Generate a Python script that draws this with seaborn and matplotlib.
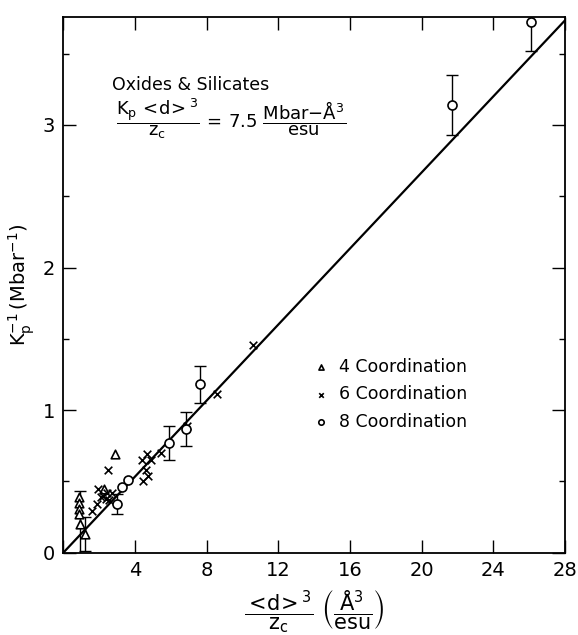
import numpy as np
import matplotlib
matplotlib.use("Agg")
import matplotlib.pyplot as plt
import seaborn as sns
from matplotlib.ticker import MultipleLocator

# 4 coordination (triangles)
tri_x = np.array([0.87, 0.87, 0.87, 0.87, 0.92, 1.21, 2.27, 2.86])
tri_y = np.array([0.39, 0.35, 0.31, 0.27, 0.20, 0.13, 0.45, 0.69])
tri_err = np.array([0, 0, 0, 0, 0.23, 0.12, 0, 0])

# 6 coordination (crosses)
cross_x = np.array([1.60, 1.90, 1.95, 2.08, 2.23, 2.36, 2.45, 2.49, 2.55, 2.70,
                    4.41, 4.46, 4.59, 4.69, 4.74, 4.87, 5.43, 6.92, 8.56, 10.6])
cross_y = np.array([0.29, 0.34, 0.45, 0.39, 0.40, 0.38, 0.42, 0.58, 0.37, 0.42,
                    0.65, 0.50, 0.58, 0.69, 0.54, 0.65, 0.70, 0.89, 1.11, 1.46])

# 8 coordination (circles)
circ_x = np.array([3.01, 3.26, 3.63, 5.90, 6.83, 7.63, 21.7, 26.1])
circ_y = np.array([0.34, 0.46, 0.51, 0.77, 0.87, 1.18, 3.14, 3.72])
circ_err = np.array([0.07, 0, 0, 0.12, 0.12, 0.13, 0.21, 0.20])

# fitted line K_p <d>^3 / z_c = 7.5
slope = 7.5
fit_x = np.array([0.0, 28.0])

x_ticks = [0, 4, 8, 12, 16, 20, 24, 28]
x_ticklabels = ["", "4", "8", "12", "16", "20", "24", "28"]
y_ticks = [0, 1, 2, 3]
y_ticklabels = ["0", "1", "2", "3"]

sns.set_style("ticks")
plt.rcParams["font.family"] = ["DejaVu Sans"]
plt.rcParams["mathtext.fontset"] = "dejavusans"
plt.rcParams["mathtext.default"] = "regular"
for k in ["text.color", "axes.labelcolor", "xtick.color", "ytick.color", "axes.edgecolor"]:
    plt.rcParams[k] = "black"

fig = plt.figure(figsize=(5.78, 6.35), dpi=100)
ax = fig.add_axes([0.1095, 0.1296, 0.868, 0.8432])

sns.lineplot(x=fit_x, y=fit_x / slope, color="black", linewidth=1.6, ax=ax, zorder=1)

for xs, ys, es in [(tri_x, tri_y, tri_err), (circ_x, circ_y, circ_err)]:
    m = es > 0
    ax.errorbar(xs[m], ys[m], yerr=es[m], fmt="none", ecolor="black",
                elinewidth=1.0, capsize=4, capthick=1.0, zorder=2)

sns.scatterplot(x=tri_x, y=tri_y, marker="^", color="white", edgecolor="black",
                linewidth=1.2, s=38, ax=ax, zorder=3, label="4 Coordination")
sns.scatterplot(x=cross_x, y=cross_y, marker="x", color="black",
                linewidth=1.2, s=30, ax=ax, zorder=3, label="6 Coordination")
sns.scatterplot(x=circ_x, y=circ_y, marker="o", color="white", edgecolor="black",
                linewidth=1.2, s=42, ax=ax, zorder=3, label="8 Coordination")

ax.set_xlim(0, 28)
ax.set_ylim(0, 3.755)
ax.set_xticks(x_ticks)
ax.set_xticklabels(x_ticklabels)
ax.set_yticks(y_ticks)
ax.set_yticklabels(y_ticklabels)
ax.yaxis.set_minor_locator(MultipleLocator(0.5))
ax.tick_params(which="major", direction="in", length=9.5, width=1.0,
               top=True, right=True, labelsize=14, pad=6)
ax.tick_params(which="minor", direction="in", length=4.5, width=1.0,
               left=True, right=True)
for sp in ax.spines.values():
    sp.set_linewidth(1.3)

ax.set_ylabel(r"$K_p^{-1}\,(Mbar^{-1})$", fontsize=14, labelpad=4)
ax.set_xlabel(r"$\dfrac{{<}\!d\!{>}^3}{z_c}\ \left(\dfrac{\AA^3}{esu}\right)$",
              fontsize=15, labelpad=6)

ax.text(0.254, 0.874, "Oxides & Silicates", transform=ax.transAxes,
        ha="center", va="center", fontsize=12.5)
ax.text(0.334, 0.811,
        r"$\dfrac{K_p\,{<}\!d\!{>}^3}{z_c}\,=\,7.5\ \dfrac{Mbar{-}\AA^3}{esu}$",
        transform=ax.transAxes, ha="center", va="center", fontsize=13)

ax.legend(loc="center left", bbox_to_anchor=(0.466, 0.296), frameon=False,
          fontsize=12.5, markerscale=0.6, handletextpad=0.5, labelspacing=0.55,
          handlelength=1.0)

fig.savefig("out.png", dpi=100)
